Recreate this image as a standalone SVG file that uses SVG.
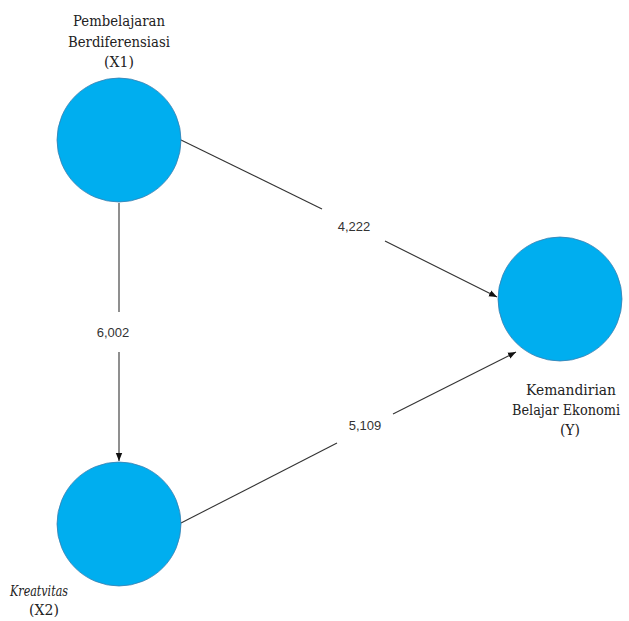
<svg xmlns="http://www.w3.org/2000/svg" width="629" height="621" viewBox="0 0 629 621">
<style>
.node{fill:#00AEEF;stroke:#3a7fb0;stroke-width:0.8}
.lbl{font-family:'DejaVu Serif','Liberation Serif',serif;font-size:14px;fill:#222;text-anchor:middle}
.num{font-family:'Liberation Sans',Arial,sans-serif;font-size:13px;fill:#333;text-anchor:middle}
.edge{stroke:#333;stroke-width:1.1;fill:none}
</style>
<defs>
<marker id="arr" viewBox="0 0 10 10" refX="10" refY="5" markerWidth="8" markerHeight="8" markerUnits="userSpaceOnUse" orient="auto">
<path d="M0,1 L10,5 L0,9 Z" fill="#111"/>
</marker>
</defs>
<g id="connectors">
<line class="edge" x1="181" y1="140" x2="322" y2="209"/>
<line class="edge" x1="385" y1="241" x2="497" y2="297" marker-end="url(#arr)"/>
<line class="edge" x1="119" y1="203" x2="119" y2="312"/>
<line class="edge" x1="119" y1="352" x2="119" y2="461" marker-end="url(#arr)"/>
<line class="edge" x1="181" y1="523" x2="337" y2="443"/>
<line class="edge" x1="393" y1="414" x2="516" y2="352" marker-end="url(#arr)"/>
<text class="num" x="354" y="231">4,222</text>
<text class="num" x="113" y="337">6,002</text>
<text class="num" x="365" y="430">5,109</text>
</g>
<g id="X1">
<circle class="node" cx="119" cy="140" r="62"/>
<text class="lbl" x="119" y="26" textLength="92" lengthAdjust="spacingAndGlyphs">Pembelajaran</text>
<text class="lbl" x="119" y="47" textLength="102" lengthAdjust="spacingAndGlyphs">Berdiferensiasi</text>
<text class="lbl" x="119" y="67">(X1)</text>
</g>
<g id="X2">
<circle class="node" cx="119" cy="524" r="62"/>
<text class="lbl" x="39" y="596" font-style="italic" textLength="58" lengthAdjust="spacingAndGlyphs">Kreatvitas</text>
<text class="lbl" x="44" y="615">(X2)</text>
</g>
<g id="Y">
<circle class="node" cx="560" cy="299" r="62"/>
<text class="lbl" x="571" y="395" textLength="90" lengthAdjust="spacingAndGlyphs">Kemandirian</text>
<text class="lbl" x="566" y="415" font-size="13" textLength="108" lengthAdjust="spacingAndGlyphs">Belajar Ekonomi</text>
<text class="lbl" x="570" y="435">(Y)</text>
</g>
</svg>
